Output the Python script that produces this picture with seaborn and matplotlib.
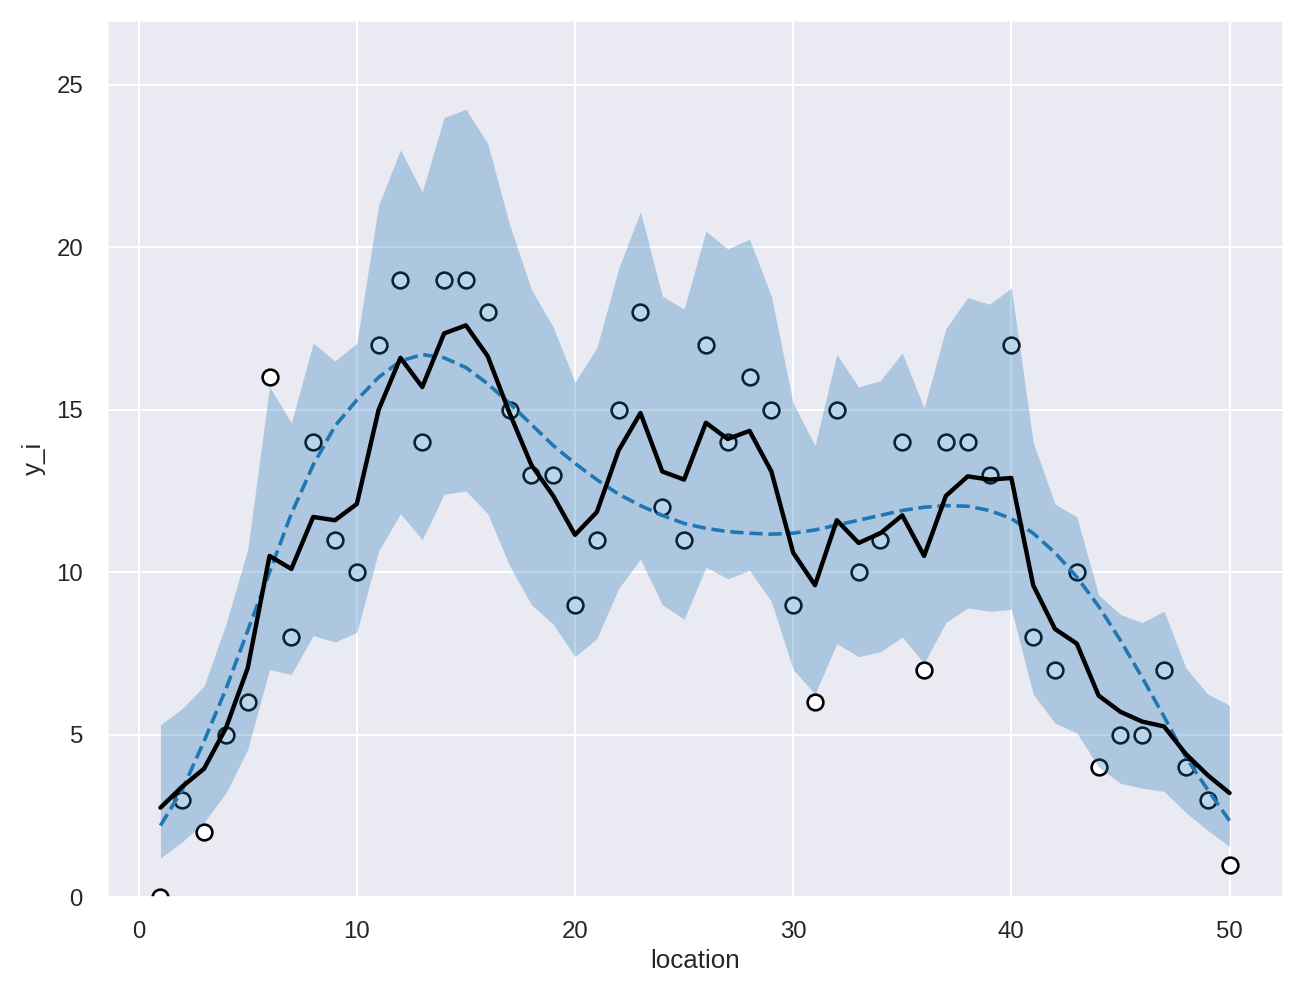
import numpy as np
import pandas as pd
import matplotlib
matplotlib.use("Agg")
import matplotlib.pyplot as plt
import seaborn as sns

sns.set_theme(style="darkgrid", context="notebook")
plt.rcParams['font.family'] = ['Liberation Sans', 'DejaVu Sans']

# observed counts per location
location = list(range(1, 51))
y_obs = [0, 3, 2, 5, 6, 16, 8, 14, 11, 10,
         17, 19, 14, 19, 19, 18, 15, 13, 13, 9,
         11, 15, 18, 12, 11, 17, 14, 16, 15, 9,
         6, 15, 10, 11, 14, 7, 14, 14, 13, 17,
         8, 7, 10, 4, 5, 5, 7, 4, 3, 1]

# posterior mean
post_mean = [2.75, 3.4, 3.95, 5.2, 7.05, 10.5, 10.1, 11.7, 11.6, 12.1,
             15.0, 16.6, 15.7, 17.35, 17.6, 16.65, 14.9, 13.3, 12.35, 11.15,
             11.85, 13.75, 14.9, 13.1, 12.85, 14.6, 14.1, 14.35, 13.1, 10.6,
             9.6, 11.6, 10.9, 11.2, 11.75, 10.5, 12.35, 12.95, 12.85, 12.9,
             9.6, 8.25, 7.8, 6.2, 5.7, 5.4, 5.25, 4.4, 3.75, 3.2]

# credible interval bounds
ci_upper = [5.3, 5.8, 6.5, 8.4, 10.7, 15.7, 14.6, 17.05, 16.5, 17.05,
            21.3, 23.0, 21.7, 24.0, 24.25, 23.2, 20.7, 18.7, 17.55, 15.85,
            16.9, 19.35, 21.1, 18.5, 18.1, 20.5, 19.95, 20.25, 18.5, 15.2,
            13.9, 16.7, 15.7, 15.9, 16.75, 15.05, 17.5, 18.45, 18.25, 18.75,
            14.0, 12.1, 11.7, 9.3, 8.7, 8.45, 8.8, 7.05, 6.25, 5.9]
ci_lower = [1.2, 1.7, 2.3, 3.2, 4.55, 7.0, 6.85, 8.05, 7.85, 8.15,
            10.65, 11.8, 11.0, 12.4, 12.5, 11.8, 10.2, 9.0, 8.4, 7.4,
            7.95, 9.5, 10.4, 9.0, 8.55, 10.15, 9.8, 10.05, 9.1, 7.0,
            6.25, 7.8, 7.4, 7.55, 8.0, 7.2, 8.45, 8.9, 8.8, 8.85,
            6.25, 5.35, 5.05, 4.0, 3.5, 3.35, 3.25, 2.6, 2.05, 1.55]

# underlying intensity
true_rate = [2.2, 3.3, 4.8, 6.4, 8.2, 10.0, 11.8, 13.3, 14.5, 15.3,
             16.0, 16.5, 16.7, 16.6, 16.3, 15.8, 15.2, 14.55, 13.9, 13.35,
             12.85, 12.4, 12.05, 11.75, 11.5, 11.35, 11.25, 11.2, 11.17, 11.2,
             11.3, 11.45, 11.6, 11.75, 11.9, 12.0, 12.05, 12.03, 11.9, 11.65,
             11.2, 10.6, 9.85, 8.95, 7.9, 6.75, 5.55, 4.3, 3.3, 2.35]

df = pd.DataFrame({'location': location, 'y_i': y_obs, 'mean': post_mean,
                   'upper': ci_upper, 'lower': ci_lower, 'true': true_rate})

blue = '#1f77b4'

fig = plt.figure(figsize=(1300 / 144, 998 / 144), dpi=144)
ax = fig.add_axes([107 / 1300, 101 / 998, 1176 / 1300, 877 / 998])

sns.scatterplot(data=df, x='location', y='y_i', ax=ax, s=62,
                facecolor='white', edgecolor='black', linewidth=1.3, zorder=2)
ax.fill_between(df['location'], df['lower'], df['upper'],
                color=blue, alpha=0.3, linewidth=0, zorder=3)
sns.lineplot(data=df, x='location', y='true', ax=ax, color=blue,
             linestyle='--', linewidth=1.8, zorder=4)
sns.lineplot(data=df, x='location', y='mean', ax=ax, color='black',
             linewidth=2.2, zorder=5)

ax.set_ylim(0, 27)
ax.tick_params(labelsize=12, pad=6)
ax.set_xlabel('location', fontsize=13, labelpad=3)
ax.set_ylabel('y_i', fontsize=13, labelpad=5)

fig.savefig('out.png', dpi=144)
